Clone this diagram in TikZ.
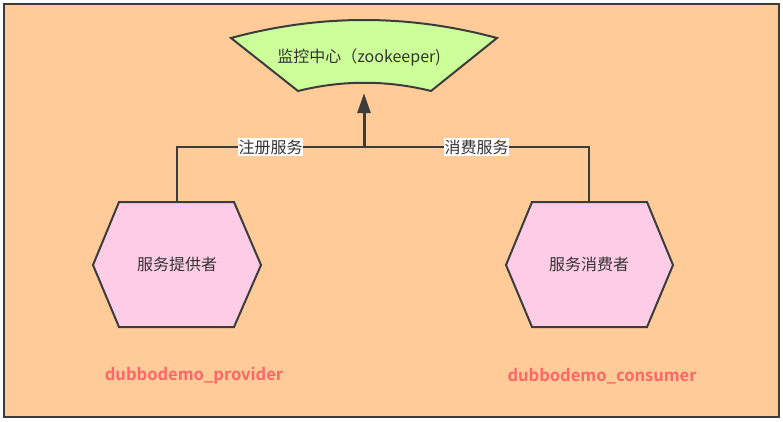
\documentclass[tikz,border=0pt]{standalone}
\usepackage{fontspec}
\setmainfont{Noto Sans CJK SC}[BoldFont={Noto Sans CJK SC Bold}]
\usetikzlibrary{arrows.meta}
\definecolor{bgorange}{HTML}{FFCC99}
\definecolor{fangreen}{HTML}{CCFF99}
\definecolor{hexpink}{HTML}{FFCCE6}
\definecolor{edgegray}{HTML}{3C3C3C}
\definecolor{txtgray}{HTML}{333333}
\definecolor{redtxt}{HTML}{FF6666}
\tikzset{
  shapeline/.style={draw=edgegray, line width=2pt, line join=miter},
  hexfill/.style={shapeline, fill=hexpink},
  fanfill/.style={shapeline, fill=fangreen},
  hextext/.style={minimum width=115pt, minimum height=125pt, inner sep=0pt, text=txtgray, font=\fontsize{16}{19}\selectfont},
  conn/.style={draw=edgegray, line width=2pt},
  arrowconn/.style={draw=edgegray, line width=3pt, -{Triangle[length=20pt,width=13pt]}},
  edgelabel/.style={fill=white, inner xsep=0.5pt, inner ysep=2pt, text=txtgray, font=\fontsize{16}{19}\selectfont},
  redlabel/.style={text=redtxt, font=\fontsize{16.5}{19}\selectfont\bfseries},
}
\begin{document}
\begin{tikzpicture}[x=1pt,y=-1pt]
\useasboundingbox (0,0) rectangle (783,421);
\fill[white] (0,0) rectangle (783,421);
\draw[draw=edgegray, line width=2pt, fill=bgorange] (4,4) rectangle (779,417);
% fan shape
\draw[fanfill] (231,38) .. controls (320,14) and (408,14) .. (497,38)
  -- (431,91) .. controls (387,80) and (342,80) .. (298,91) -- cycle;
\node[minimum height=72pt, inner sep=0pt, text=txtgray, font=\fontsize{16}{19}\selectfont] (zk) at (359,57) {监控中心（zookeeper)};
% hexagons
\draw[hexfill] (93,265) -- (119,202) -- (234,202) -- (261,265) -- (234,327) -- (119,327) -- cycle;
\node[hextext] (prov) at (177,264.5) {服务提供者};
\draw[hexfill] (506,265) -- (532,202) -- (647,202) -- (673,265) -- (647,327) -- (532,327) -- cycle;
\node[hextext] (cons) at (589,264.5) {服务消费者};
% connectors
\coordinate (j) at (364,147);
\draw[conn] (prov.north) |- (j) node[edgelabel, pos=0.75] {注册服务};
\draw[conn] (cons.north) |- (j) node[edgelabel, pos=0.75] {消费服务};
\draw[arrowconn] (j) -- (j |- zk.south);
% red labels
\node[redlabel] (provname) at (194,376) {dubbodemo\_provider};
\node[redlabel] (consname) at (602,376) {dubbodemo\_consumer};
\end{tikzpicture}
\end{document}
